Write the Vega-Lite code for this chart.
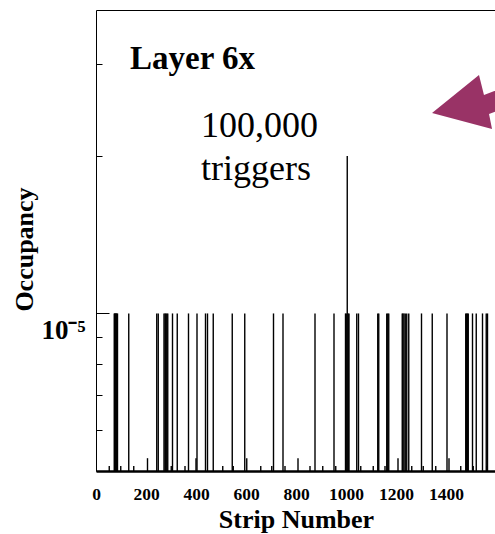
{
  "$schema": "https://vega.github.io/schema/vega-lite/v6.json",
  "width": 400,
  "height": 461,
  "autosize": "none",
  "padding": {"left": 96, "top": 10, "right": 0, "bottom": 63},
  "background": "white",
  "config": {"view": {"stroke": "black", "strokeWidth": 1}, "font": "Liberation Serif"},
  "datasets": {
    "bars": [
      {"strip": 73, "occupancy": 0.00001}, {"strip": 75, "occupancy": 0.00001}, {"strip": 77, "occupancy": 0.00001},
      {"strip": 79, "occupancy": 0.00001}, {"strip": 81, "occupancy": 0.00001}, {"strip": 83, "occupancy": 0.00001},
      {"strip": 86, "occupancy": 0.00001}, {"strip": 131, "occupancy": 0.00001}, {"strip": 243, "occupancy": 0.00001},
      {"strip": 249, "occupancy": 0.00001}, {"strip": 272, "occupancy": 0.00001}, {"strip": 276, "occupancy": 0.00001},
      {"strip": 279, "occupancy": 0.00001}, {"strip": 283, "occupancy": 0.00001}, {"strip": 287, "occupancy": 0.00001},
      {"strip": 306, "occupancy": 0.00001}, {"strip": 325, "occupancy": 0.00001}, {"strip": 370, "occupancy": 0.00001},
      {"strip": 404, "occupancy": 0.00001}, {"strip": 438, "occupancy": 0.00001}, {"strip": 446, "occupancy": 0.00001},
      {"strip": 469, "occupancy": 0.00001}, {"strip": 545, "occupancy": 0.00001}, {"strip": 595, "occupancy": 0.00001},
      {"strip": 710, "occupancy": 0.00001}, {"strip": 748, "occupancy": 0.00001}, {"strip": 876, "occupancy": 0.00001},
      {"strip": 952, "occupancy": 0.00001}, {"strip": 998, "occupancy": 0.00001}, {"strip": 1001, "occupancy": 0.00001},
      {"strip": 1005, "occupancy": 0.00002},
      {"strip": 1009, "occupancy": 0.00001}, {"strip": 1012, "occupancy": 0.00001}, {"strip": 1043, "occupancy": 0.00001},
      {"strip": 1050, "occupancy": 0.00001}, {"strip": 1127, "occupancy": 0.00001}, {"strip": 1131, "occupancy": 0.00001},
      {"strip": 1163, "occupancy": 0.00001}, {"strip": 1167, "occupancy": 0.00001}, {"strip": 1171, "occupancy": 0.00001},
      {"strip": 1225, "occupancy": 0.00001}, {"strip": 1228, "occupancy": 0.00001}, {"strip": 1232, "occupancy": 0.00001},
      {"strip": 1237, "occupancy": 0.00001}, {"strip": 1243, "occupancy": 0.00001}, {"strip": 1251, "occupancy": 0.00001},
      {"strip": 1302, "occupancy": 0.00001}, {"strip": 1345, "occupancy": 0.00001}, {"strip": 1404, "occupancy": 0.00001},
      {"strip": 1479, "occupancy": 0.00001}, {"strip": 1482, "occupancy": 0.00001}, {"strip": 1486, "occupancy": 0.00001},
      {"strip": 1489, "occupancy": 0.00001}, {"strip": 1506, "occupancy": 0.00001}, {"strip": 1521, "occupancy": 0.00001},
      {"strip": 1546, "occupancy": 0.00001}, {"strip": 1561, "occupancy": 0.00001}, {"strip": 1566, "occupancy": 0.00001},
      {"strip": 206, "occupancy": 0.00000529}, {"strip": 400, "occupancy": 0.00000529}, {"strip": 603, "occupancy": 0.00000529},
      {"strip": 808, "occupancy": 0.00000529}, {"strip": 1208, "occupancy": 0.00000529}, {"strip": 1412, "occupancy": 0.00000529},
      {"strip": 53, "occupancy": 0.00000511}, {"strip": 99, "occupancy": 0.00000511}, {"strip": 151, "occupancy": 0.00000511},
      {"strip": 301, "occupancy": 0.00000511}, {"strip": 356, "occupancy": 0.00000511}, {"strip": 507, "occupancy": 0.00000511},
      {"strip": 549, "occupancy": 0.00000511}, {"strip": 659, "occupancy": 0.00000511}, {"strip": 703, "occupancy": 0.00000511},
      {"strip": 756, "occupancy": 0.00000511}, {"strip": 856, "occupancy": 0.00000511}, {"strip": 907, "occupancy": 0.00000511},
      {"strip": 959, "occupancy": 0.00000511}, {"strip": 1059, "occupancy": 0.00000511}, {"strip": 1109, "occupancy": 0.00000511},
      {"strip": 1156, "occupancy": 0.00000511}, {"strip": 1263, "occupancy": 0.00000511}, {"strip": 1309, "occupancy": 0.00000511},
      {"strip": 1359, "occupancy": 0.00000511}, {"strip": 1459, "occupancy": 0.00000511}, {"strip": 1509, "occupancy": 0.00000511},
      {"strip": 1563, "occupancy": 0.00000511}
    ]
  },
  "layer": [
    {
      "data": {"name": "bars"},
      "mark": {"type": "rule", "color": "black", "strokeWidth": 1.4},
      "encoding": {
        "x": {
          "field": "strip", "type": "quantitative",
          "scale": {"domain": [0, 1600], "nice": false},
          "axis": {
            "title": "Strip Number",
            "values": [0, 200, 400, 600, 800, 1000, 1200, 1400],
            "format": "d",
            "ticks": false, "grid": false,
            "domainColor": "black", "domainWidth": 2.5,
            "labelFont": "Liberation Serif", "labelFontWeight": "bold", "labelFontSize": 17.5,
            "labelColor": "black", "labelPadding": 14, "labelFlush": false, "labelOverlap": false,
            "titleFont": "Liberation Serif", "titleFontWeight": "bold", "titleFontSize": 26,
            "titleColor": "black", "titleY": 56, "titleBaseline": "alphabetic"
          }
        },
        "y": {
          "field": "occupancy", "type": "quantitative",
          "scale": {"type": "log", "domain": [0.000005, 0.000038], "nice": false},
          "axis": {
            "title": "Occupancy",
            "values": [0.000006, 0.000007, 0.000008, 0.000009, 0.00001, 0.00002, 0.00003],
            "grid": false, "domain": false,
            "tickColor": "black", "tickWidth": 1,
            "tickSize": {"condition": {"test": "abs(datum.value - 0.00001) < 1e-9", "value": -13}, "value": -6},
            "labelExpr": "abs(datum.value - 0.00001) < 1e-9 ? '10⁻⁵' : ''",
            "labelFont": "Liberation Serif", "labelFontWeight": "bold", "labelFontSize": 27,
            "labelColor": "black", "labelPadding": 24, "labelBaseline": "alphabetic", "labelOffset": 25,
            "labelFlush": false, "labelOverlap": false,
            "titleFont": "Liberation Serif", "titleFontWeight": "bold", "titleFontSize": 26,
            "titleColor": "black", "titleX": -64, "titleY": 239, "titleBaseline": "alphabetic", "titleAngle": -90
          }
        },
        "y2": {"datum": 0.000005}
      }
    },
    {
      "data": {"values": [{"label": "Layer 6x"}]},
      "mark": {"type": "text", "font": "Liberation Serif", "fontWeight": "bold", "fontSize": 33, "align": "left", "baseline": "alphabetic", "color": "black"},
      "encoding": {
        "x": {"datum": 136, "type": "quantitative"},
        "y": {"datum": 0.00002931, "type": "quantitative"},
        "text": {"field": "label"}
      }
    },
    {
      "data": {"values": [{"label": "100,000"}]},
      "mark": {"type": "text", "font": "Liberation Serif", "fontSize": 36, "align": "center", "baseline": "alphabetic", "color": "black"},
      "encoding": {
        "x": {"datum": 654, "type": "quantitative"},
        "y": {"datum": 0.00002176, "type": "quantitative"},
        "text": {"field": "label"}
      }
    },
    {
      "data": {"values": [{"label": "triggers"}]},
      "mark": {"type": "text", "font": "Liberation Serif", "fontSize": 36, "align": "center", "baseline": "alphabetic", "color": "black"},
      "encoding": {
        "x": {"datum": 640, "type": "quantitative"},
        "y": {"datum": 0.00001799, "type": "quantitative"},
        "text": {"field": "label"}
      }
    },
    {
      "data": {"values": [{"label": "arrow"}]},
      "mark": {
        "type": "point",
        "shape": "M-0.633,0.217L0.15,-0.417L0.233,-0.083L1.317,-0.517L1.4,-0.2L0.317,0.233L0.367,0.483Z",
        "size": 14400, "filled": true, "color": "#993366", "opacity": 1, "strokeWidth": 0
      },
      "encoding": {
        "x": {"datum": 1496, "type": "quantitative"},
        "y": {"datum": 0.00002557, "type": "quantitative"}
      }
    }
  ]
}
